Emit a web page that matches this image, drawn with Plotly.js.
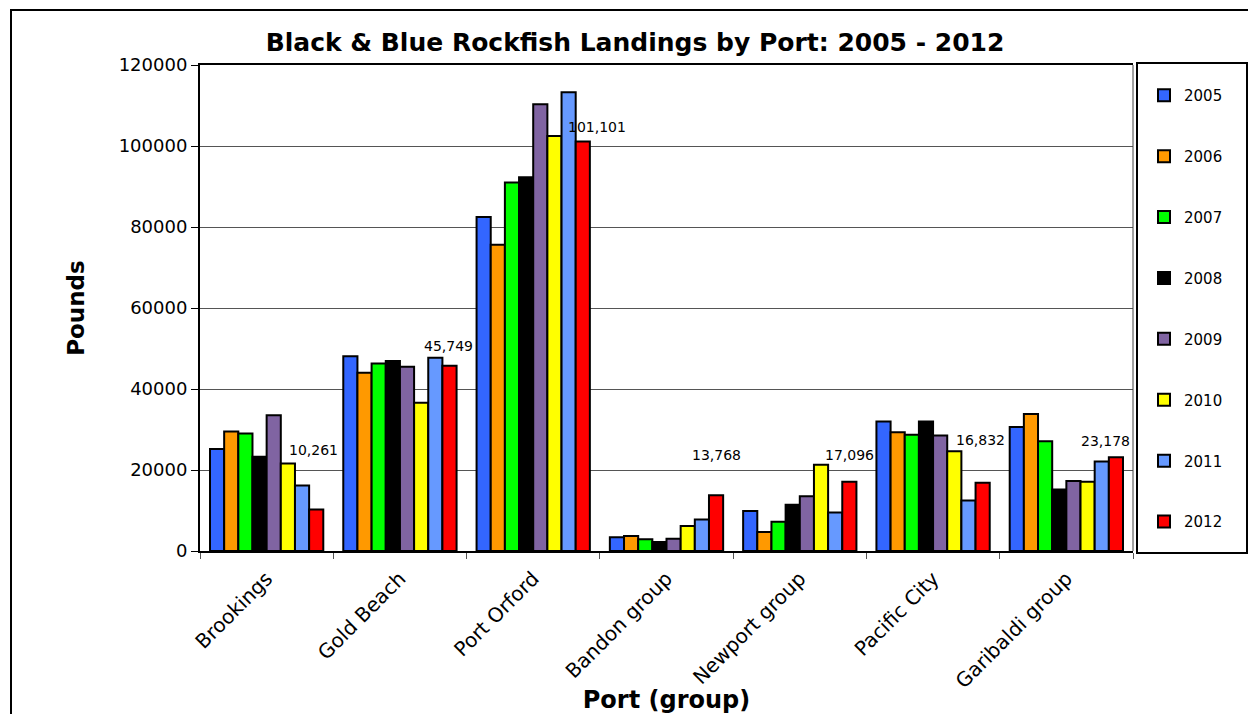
<!DOCTYPE html>
<html>
<head>
<meta charset="utf-8">
<script src="https://cdn.plot.ly/plotly-3.0.1.min.js"></script>
<style>html,body{margin:0;padding:0;background:#fff;}#chart{width:1248px;height:714px;}</style>
</head>
<body>
<div id="chart"></div>
<script>
// ---- data ----
const ports = ["Brookings", "Gold Beach", "Port Orford", "Bandon group", "Newport group", "Pacific City", "Garibaldi group"];
const years = ["2005", "2006", "2007", "2008", "2009", "2010", "2011", "2012"];
const y2005 = [25200, 48100, 82500, 3400, 9900, 32000, 30600];
const y2006 = [29500, 44000, 75600, 3700, 4700, 29300, 33800];
const y2007 = [29000, 46300, 91000, 2900, 7200, 28700, 27100];
const y2008 = [23300, 46900, 92300, 2200, 11400, 32000, 15200];
const y2009 = [33500, 45500, 110300, 3000, 13500, 28500, 17300];
const y2010 = [21600, 36600, 102500, 6200, 21300, 24600, 17100];
const y2011 = [16200, 47700, 113300, 7800, 9500, 12500, 22100];
const y2012 = [10261, 45749, 101101, 13768, 17096, 16832, 23178];

// ---- styles ----
const seriesValues = [y2005, y2006, y2007, y2008, y2009, y2010, y2011, y2012];
const colors = ["#3366FF", "#FF9900", "#00FF00", "#000000", "#8064A2", "#FFFF00", "#6699FF", "#FF0000"];
const labelXShift = [47, 49, 64, 50, 50, 47, 39];
const labelYShift = [59, 20, 15, 40, 27, 43, 16];
const FONT = "DejaVu Sans, Verdana, sans-serif";

const traces = years.map((yr, i) => ({
  type: "bar",
  name: yr,
  x: ports,
  y: seriesValues[i],
  legendgroup: yr,
  marker: {color: colors[i], line: {color: "#000000", width: 2}},
  hoverinfo: "x+y+name"
}));

const annotations = ports.map((p, j) => ({
  x: p, y: y2012[j], xref: "x", yref: "y",
  text: y2012[j].toLocaleString("en-US"),
  showarrow: false,
  xanchor: "center", yanchor: "middle",
  xshift: labelXShift[j], yshift: labelYShift[j],
  font: {family: FONT, size: 14, color: "#000"}
}));

const X0 = 200, X1 = 1133, Y0 = 551, Y1 = 65;
const px = v => (v - X0) / (X1 - X0);
const py = v => (Y0 - v) / (Y0 - Y1);

const layout = {
  width: 1248, height: 714,
  margin: {l: X0, r: 1248 - X1, t: Y1, b: 714 - Y0},
  paper_bgcolor: "#ffffff", plot_bgcolor: "#ffffff",
  font: {family: FONT, color: "#000"},
  title: {
    text: "<b>Black & Blue Rockfish Landings by Port: 2005 - 2012</b>",
    font: {family: FONT, size: 25, color: "#000"},
    x: 635 / 1248, xanchor: "center", xref: "container",
    y: 1 - 42 / 714, yanchor: "middle", yref: "container"
  },
  barmode: "group",
  bargap: 0.15,
  bargroupgap: 0,
  xaxis: {
    type: "category",
    tickangle: -45,
    tickson: "boundaries",
    ticks: "outside", ticklen: 6, tickcolor: "#555",
    ticklabelstandoff: 6,
    showline: true, linecolor: "#000", linewidth: 2, mirror: true,
    tickfont: {family: FONT, size: 20, color: "#000"},
    title: {text: "<b>Port (group)</b>", font: {family: FONT, size: 24, color: "#000"}, standoff: 5},
    automargin: false
  },
  yaxis: {
    range: [0, 120000], dtick: 20000, tickformat: "d",
    ticks: "outside", ticklen: 7, tickcolor: "#000",
    showline: true, linecolor: "#000", linewidth: 2,
    showgrid: true, gridcolor: "#555", gridwidth: 1,
    zeroline: false,
    tickfont: {family: FONT, size: 18, color: "#000"},
    title: {text: "<b>Pounds</b>", font: {family: FONT, size: 23, color: "#000"}, standoff: 28},
    automargin: false
  },
  legend: {
    x: px(1144), xanchor: "left",
    y: py(79), yanchor: "top",
    bgcolor: "rgba(0,0,0,0)", borderwidth: 0,
    font: {family: FONT, size: 15, color: "#000"},
    tracegroupgap: 38.4,
    traceorder: "grouped"
  },
  annotations: annotations,
  shapes: [
    {type: "rect", xref: "paper", yref: "paper", x0: px(11), x1: px(1300), y0: py(760), y1: py(10),
     line: {color: "#000", width: 2}, fillcolor: "rgba(0,0,0,0)", layer: "below"},
    {type: "rect", xref: "paper", yref: "paper", x0: px(1137), x1: px(1247), y0: py(553), y1: py(63),
     line: {color: "#000", width: 2}, fillcolor: "rgba(0,0,0,0)"},
    {type: "line", xref: "paper", yref: "paper", x0: 1, x1: 1, y0: 0, y1: 1,
     line: {color: "#444", width: 1}}
  ]
};

Plotly.newPlot("chart", traces, layout, {displayModeBar: false, staticPlot: true});
</script>
</body>
</html>
